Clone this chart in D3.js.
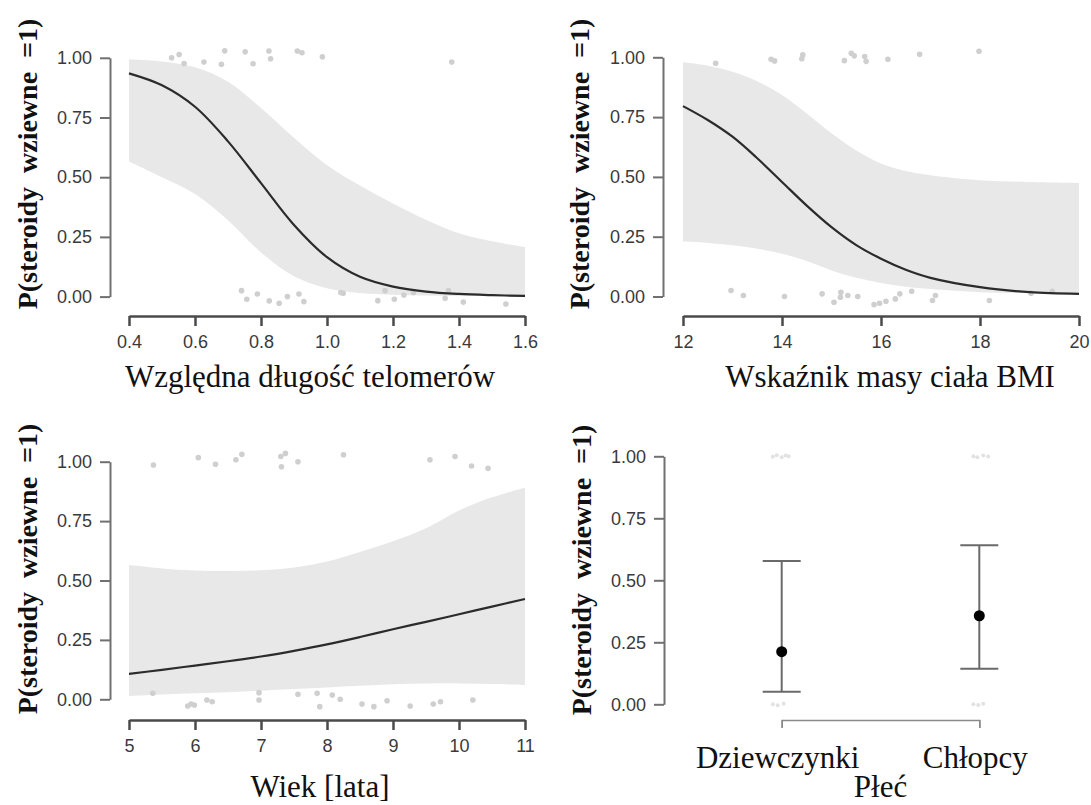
<!DOCTYPE html>
<html>
<head>
<meta charset="utf-8">
<script src="https://cdn.jsdelivr.net/npm/d3@7"></script>
<style>
body { margin:0; background:#fff; }
svg { display:block; }
.tick text { font-family:"Liberation Sans", Arial, sans-serif; font-size:18px; fill:#3a3a3a; }
.ytitle { font-family:"Liberation Serif", "Times New Roman", serif; font-weight:bold; font-size:28px; white-space:pre; fill:#111; }
.xtitle { font-family:"Liberation Serif", "Times New Roman", serif; font-size:31px; fill:#111; }
</style>
</head>
<body>
<svg id="chart" width="1091" height="805"></svg>
<script>
// --- telomere length panel ---
const telX   = [0.4,0.5,0.6,0.7,0.8,0.9,1.0,1.1,1.2,1.3,1.4,1.5,1.6];
const telFit = [0.935,0.885,0.795,0.65,0.475,0.30,0.165,0.083,0.042,0.021,0.011,0.006,0.003];
const telHi  = [0.993,0.985,0.96,0.90,0.79,0.665,0.55,0.465,0.39,0.322,0.265,0.232,0.208];
const telLo  = [0.566,0.50,0.43,0.32,0.185,0.085,0.035,0.015,0.008,0.005,0.003,0.002,0.002];
const telPtsX = [0.529,0.552,0.567,0.627,0.680,0.690,0.752,0.776,0.824,0.829,0.910,0.924,0.986,1.378,
                 0.741,0.757,0.789,0.825,0.855,0.880,0.915,0.930,1.042,1.049,1.154,1.176,1.204,1.233,1.262,1.358,1.368,1.413,1.542];
const telPtsY = [1.0,1.014,0.976,0.982,0.973,1.029,1.025,0.975,1.028,0.996,1.028,1.021,1.004,0.982,
                 0.025,-0.011,0.011,-0.018,-0.028,0.0,0.011,-0.021,0.017,0.014,-0.017,0.025,-0.011,0.007,0.017,-0.007,0.025,-0.023,-0.031];
const telTicks = [0.4,0.6,0.8,1.0,1.2,1.4,1.6];

// --- BMI panel ---
const bmiX   = [12,12.5,13,13.5,14,14.5,15,15.5,16,16.5,17,18,19,20];
const bmiFit = [0.796,0.738,0.668,0.578,0.479,0.38,0.29,0.215,0.158,0.112,0.078,0.039,0.018,0.011];
const bmiHi  = [0.979,0.965,0.94,0.90,0.842,0.765,0.682,0.61,0.556,0.525,0.507,0.486,0.479,0.475];
const bmiLo  = [0.23,0.224,0.214,0.2,0.179,0.148,0.109,0.078,0.056,0.041,0.031,0.018,0.014,0.011];
const bmiPtsX = [12.66,13.78,13.85,14.42,14.40,15.26,15.40,15.46,15.67,15.70,16.14,16.78,17.98,
                 12.97,13.22,14.05,14.81,15.05,15.18,15.19,15.33,15.53,15.86,15.97,16.10,16.29,16.38,16.62,17.04,17.10,18.19,19.03,19.46];
const bmiPtsY = [0.975,0.992,0.985,1.010,0.994,0.986,1.017,1.006,1.003,0.983,0.992,1.013,1.025,
                 0.025,0.004,0.0,0.011,-0.024,-0.003,0.018,0.004,0.0,-0.034,-0.028,-0.020,-0.010,0.011,0.022,-0.017,0.004,-0.017,0.014,0.022];
const bmiTicks = [12,14,16,18,20];

// --- age panel ---
const ageX   = [5,5.5,6,6.5,7,7.5,8,8.5,9,9.5,10,10.5,11];
const ageFit = [0.107,0.124,0.142,0.160,0.180,0.204,0.231,0.262,0.295,0.326,0.358,0.390,0.422];
const ageHi  = [0.565,0.551,0.542,0.540,0.543,0.555,0.58,0.62,0.665,0.72,0.795,0.85,0.89];
const ageLo  = [0.014,0.02,0.025,0.03,0.036,0.043,0.05,0.057,0.063,0.066,0.067,0.064,0.06];
const agePtsX = [5.37,6.05,6.31,6.62,6.71,7.30,7.37,7.31,7.56,8.25,9.56,9.94,10.19,10.44,
                 5.36,5.89,5.94,5.99,6.18,6.26,6.97,6.97,7.56,7.85,7.89,8.08,8.20,8.53,8.71,8.91,9.26,9.61,9.72,10.21];
const agePtsY = [0.986,1.017,0.989,1.008,1.031,1.022,1.035,0.979,1.0,1.029,1.008,1.022,0.982,0.972,
                 0.025,-0.028,-0.020,-0.024,-0.003,-0.010,0.028,-0.003,0.021,0.025,-0.031,0.018,0.0,-0.020,-0.031,-0.006,-0.028,-0.020,-0.010,-0.003];
const ageTicks = [5,6,7,8,9,10,11];

// --- sex panel ---
const sexCats = ['Dziewczynki','Chłopcy'];
const sexFit  = [0.212,0.357];
const sexLo   = [0.051,0.143];
const sexHi   = [0.578,0.641];
const sexPtsX = [0.955,0.975,1.0,1.02,1.035, 0.955,0.98,1.01, 1.97,1.99,2.02,2.045, 1.97,1.995,2.02];
const sexPtsY = [0.998,1.004,0.996,1.003,1.0, 0.0,-0.004,0.002, 1.0,0.996,1.003,0.999, 0.0,-0.003,0.002];

const yTicks = [0,0.25,0.5,0.75,1];
const yTitle = 'P(steroidy  wziewne  =1)';

const svg = d3.select('#chart');
const smooth = d3.curveCatmullRom.alpha(0.5);

function styleAxis(sel, color, width){
    sel.select('.domain').attr('stroke',color).attr('stroke-width',width);
    sel.selectAll('.tick line').attr('stroke',color).attr('stroke-width',width);
}

function drawYAxis(g, y, p){
    g.append('g')
        .attr('transform',`translate(${p.yAxisX},0)`)
        .call(d3.axisLeft(y).tickValues(yTicks).tickFormat(d3.format('.2f')).tickSize(10).tickSizeOuter(0).tickPadding(8))
        .call(s => styleAxis(s,'#707070',2));
    g.append('text')
        .attr('class','ytitle')
        .attr('text-anchor','middle')
        .attr('transform',`translate(${p.yTitle[0]},${p.yTitle[1]}) rotate(-90)`)
        .text(yTitle);
}

function curvePanel(p){
    const x = d3.scaleLinear().domain(p.xDomain).range(p.xRange);
    const y = d3.scaleLinear().domain([0,1]).range(p.yRange);
    const g = svg.append('g');
    const rows = p.xs.map((v,i) => ({x:v, fit:p.fit[i], lo:p.lo[i], hi:p.hi[i]}));

    // confidence band
    g.append('path').datum(rows)
        .attr('fill','#e8e8e8')
        .attr('d', d3.area().x(d=>x(d.x)).y0(d=>y(d.lo)).y1(d=>y(d.hi)).curve(smooth));

    // jittered observations
    g.selectAll('circle.obs')
        .data(p.ptsX.map((v,i) => [v, p.ptsY[i]]))
        .join('circle')
        .attr('class','obs')
        .attr('cx', d=>x(d[0])).attr('cy', d=>y(d[1]))
        .attr('r',2.8).attr('fill','#cfcfcf');

    g.append('path').datum(rows)
        .attr('fill','none').attr('stroke','#2b2b2b').attr('stroke-width',2.2)
        .attr('d', d3.line().x(d=>x(d.x)).y(d=>y(d.fit)).curve(smooth));

    drawYAxis(g, y, p);

    g.append('g')
        .attr('transform',`translate(0,${p.xAxisY})`)
        .call(d3.axisBottom(x).tickValues(p.xTicks).tickFormat(p.fmt).tickSize(10).tickSizeOuter(0).tickPadding(9))
        .call(s => styleAxis(s,'#4a4a4a',2.5));

    g.append('text')
        .attr('class','xtitle')
        .attr('text-anchor','middle')
        .attr('x',p.title[0]).attr('y',p.title[1])
        .text(p.label);
}

curvePanel({xDomain:[0.4,1.6], xRange:[129,525], yRange:[296.6,57.8], yAxisX:110, xAxisY:316,
    xs:telX, fit:telFit, lo:telLo, hi:telHi, ptsX:telPtsX, ptsY:telPtsY, xTicks:telTicks, fmt:d3.format('.1f'),
    label:'Względna długość telomerów', title:[310,387], yTitle:[37,164]});

curvePanel({xDomain:[12,20], xRange:[683,1079], yRange:[296.5,57.3], yAxisX:663, xAxisY:316,
    xs:bmiX, fit:bmiFit, lo:bmiLo, hi:bmiHi, ptsX:bmiPtsX, ptsY:bmiPtsY, xTicks:bmiTicks, fmt:d3.format('d'),
    label:'Wskaźnik masy ciała BMI', title:[890,387], yTitle:[589,164]});

curvePanel({xDomain:[5,11], xRange:[129,525], yRange:[699.3,461.7], yAxisX:110, xAxisY:720,
    xs:ageX, fit:ageFit, lo:ageLo, hi:ageHi, ptsX:agePtsX, ptsY:agePtsY, xTicks:ageTicks, fmt:d3.format('d'),
    label:'Wiek [lata]', title:[320,797], yTitle:[37,569]});

// sex panel: point estimates with error bars
(function(){
    const p = {yAxisX:664, yTitle:[591,570]};
    const x = d3.scaleLinear().domain([1,2]).range([781.7,979.3]);
    const y = d3.scaleLinear().domain([0,1]).range([704.3,456.3]);
    const g = svg.append('g');
    const capW = 19;

    g.selectAll('circle.obs')
        .data(sexPtsX.map((v,i) => [v, sexPtsY[i]]))
        .join('circle')
        .attr('class','obs')
        .attr('cx', d=>x(d[0])).attr('cy', d=>y(d[1]))
        .attr('r',2).attr('fill','#e2e2e2');

    const rows = sexCats.map((c,i) => ({c, pos:i+1, fit:sexFit[i], lo:sexLo[i], hi:sexHi[i]}));
    const bars = g.selectAll('g.bar').data(rows).join('g').attr('class','bar')
        .attr('stroke','#6a6a6a').attr('stroke-width',2);
    bars.append('line').attr('x1',d=>x(d.pos)).attr('x2',d=>x(d.pos)).attr('y1',d=>y(d.lo)).attr('y2',d=>y(d.hi));
    bars.append('line').attr('x1',d=>x(d.pos)-capW).attr('x2',d=>x(d.pos)+capW).attr('y1',d=>y(d.hi)).attr('y2',d=>y(d.hi));
    bars.append('line').attr('x1',d=>x(d.pos)-capW).attr('x2',d=>x(d.pos)+capW).attr('y1',d=>y(d.lo)).attr('y2',d=>y(d.lo));
    g.selectAll('circle.est').data(rows).join('circle').attr('class','est')
        .attr('cx',d=>x(d.pos)).attr('cy',d=>y(d.fit)).attr('r',5.5).attr('fill','#000');

    drawYAxis(g, y, p);

    g.append('g')
        .attr('transform','translate(0,720)')
        .call(d3.axisBottom(x).tickValues([1,2]).tickFormat('').tickSize(8).tickSizeOuter(8))
        .call(s => styleAxis(s,'#8a8a8a',1.5));

    g.selectAll('text.cat').data(rows).join('text').attr('class','xtitle cat')
        .attr('text-anchor','middle')
        .attr('x',d=>x(d.pos)-4).attr('y',768)
        .text(d=>d.c);
    g.append('text').attr('class','xtitle').attr('text-anchor','middle')
        .attr('x',(x(1)+x(2))/2).attr('y',797).text('Płeć');
})();
</script>
</body>
</html>
